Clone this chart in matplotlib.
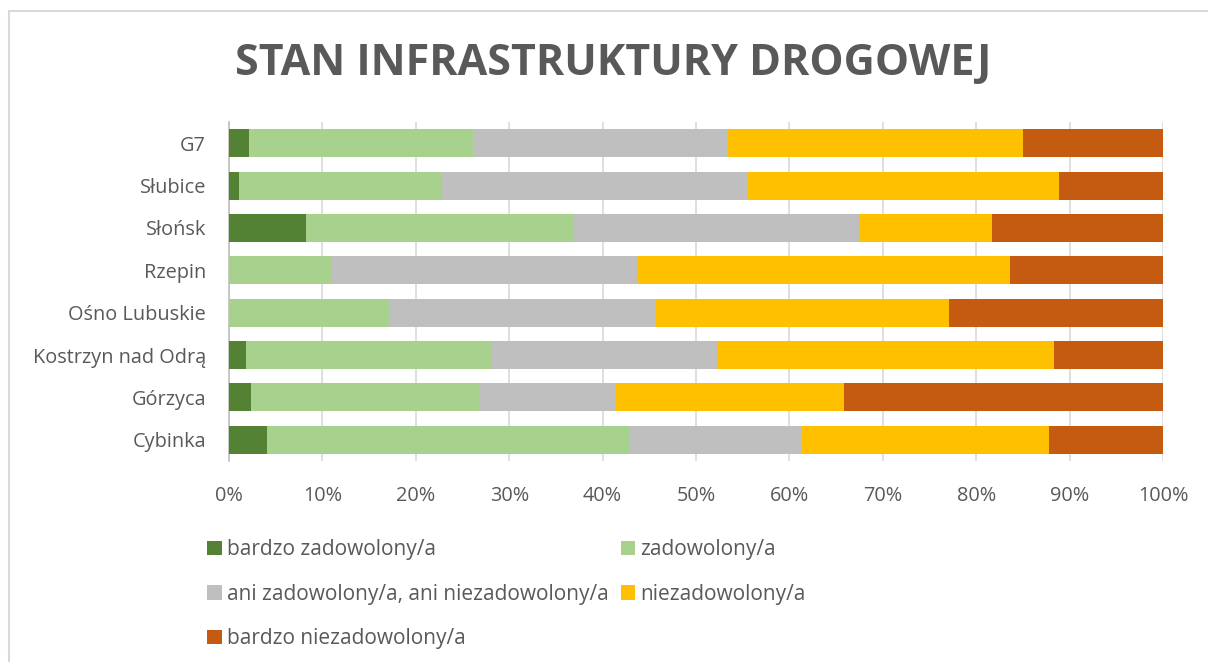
import matplotlib
matplotlib.use("Agg")
import matplotlib.pyplot as plt
from matplotlib.patches import Rectangle
import numpy as np

categories = ["G7", "Słubice", "Słońsk", "Rzepin", "Ośno Lubuskie",
              "Kostrzyn nad Odrą", "Górzyca", "Cybinka"]
bardzo_zadowolony = [2.1, 1.1, 8.2, 0.0, 0.0, 1.8, 2.4, 4.1]
zadowolony = [24.0, 21.7, 28.6, 10.9, 17.1, 26.3, 24.4, 38.8]
ani = [27.2, 32.8, 30.6, 32.8, 28.6, 24.2, 14.6, 18.4]
niezadowolony = [31.7, 33.3, 14.3, 39.9, 31.4, 36.0, 24.4, 26.5]
bardzo_niezadowolony = [15.0, 11.1, 18.3, 16.4, 22.9, 11.7, 34.2, 12.2]

series_names = ["bardzo zadowolony/a", "zadowolony/a",
                "ani zadowolony/a, ani niezadowolony/a", "niezadowolony/a",
                "bardzo niezadowolony/a"]
series = [bardzo_zadowolony, zadowolony, ani, niezadowolony, bardzo_niezadowolony]
colors = ["#548235", "#A9D18E", "#BFBFBF", "#FFC000", "#C55A11"]
xticks = [0, 10, 20, 30, 40, 50, 60, 70, 80, 90, 100]
title = "STAN INFRASTRUKTURY DROGOWEJ"

FONT = "Open Sans"
TXT = "#595959"
plt.rcParams["font.family"] = [FONT, "DejaVu Sans"]

W, H = 1208, 662
fig = plt.figure(figsize=(W / 100, H / 100), dpi=100)
fig.patch.set_facecolor("white")

# chart border
fig.patches.append(Rectangle((9 / W, -0.1), 1.2, (H - 10.5) / H + 0.1,
                             transform=fig.transFigure, fill=False,
                             edgecolor="#D9D9D9", linewidth=1.5))

ax = fig.add_axes([229 / W, 1 - 461 / H, (1163 - 229) / W, (461 - 122) / H])

y = np.arange(len(categories))
left = np.zeros(len(categories))
for name, vals, c in zip(series_names, series, colors):
    vals = np.array(vals)
    ax.barh(y, vals, left=left, height=0.66, color=c, label=name, zorder=3)
    left += vals

ax.set_xlim(0, 100)
ax.set_ylim(len(categories) - 0.5, -0.5)
ax.set_yticks(y)
ax.set_yticklabels(categories)
ax.set_xticks(xticks)
ax.set_xticklabels([f"{t}%" for t in xticks])
ax.tick_params(axis="both", length=0, colors=TXT, labelsize=14.3)
ax.tick_params(axis="y", pad=16.5)
ax.tick_params(axis="x", pad=18)
for lab in ax.get_xticklabels() + ax.get_yticklabels():
    lab.set_color(TXT)
ax.grid(axis="x", color="#D9D9D9", linewidth=1.2, zorder=0)
for s in ["top", "right", "bottom"]:
    ax.spines[s].set_visible(False)
ax.spines["left"].set_color("#BFBFBF")
ax.spines["left"].set_linewidth(1.2)

fig.text(613 / W, 1 - 63 / H, title, ha="center", va="center",
         fontsize=31, fontweight="bold", color=TXT)

handles, labels = ax.get_legend_handles_labels()
order = [0, 2, 4, 1, 3]  # row-wise reading order in two columns
leg = fig.legend([handles[i] for i in order], [labels[i] for i in order],
                 loc="upper left",
                 bbox_to_anchor=(199 / W, 1 - 531 / H), ncol=2, frameon=False,
                 fontsize=15, handlelength=0.68, handleheight=0.68,
                 handletextpad=0.28, columnspacing=0.55, labelspacing=1.12,
                 borderaxespad=0)
for t in leg.get_texts():
    t.set_color(TXT)

fig.savefig("out.png", dpi=100, facecolor="white")
